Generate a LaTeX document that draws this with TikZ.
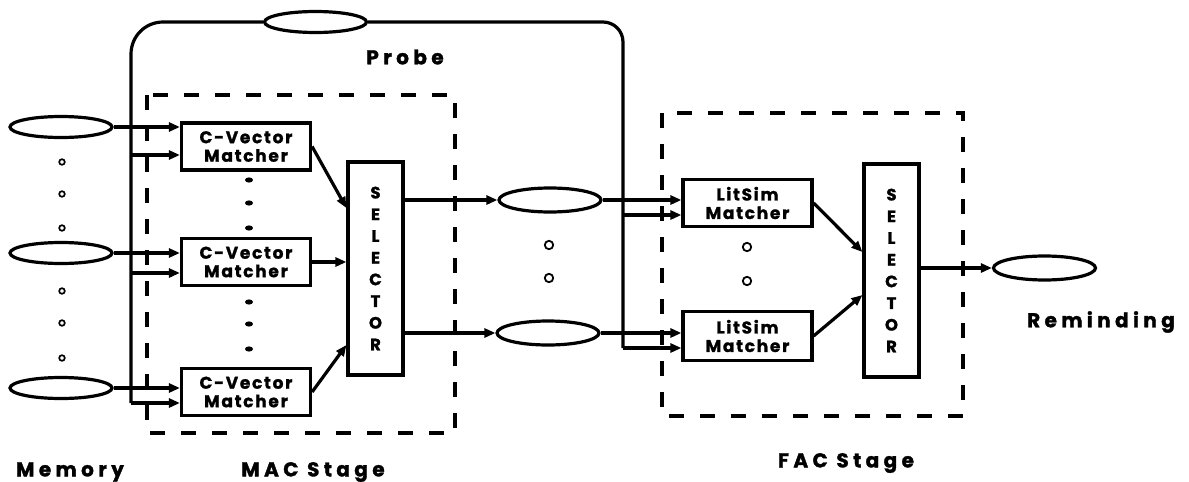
\documentclass[tikz,border=0pt]{standalone}
\usepackage{fontspec}
\setmainfont{Poppins}[BoldFeatures={FakeBold=1.2}]
\newfontfamily\boxface{Poppins}[LetterSpace=10, BoldFeatures={FakeBold=1.2}]
\newfontfamily\wideface{Poppins}[LetterSpace=22, BoldFeatures={FakeBold=1.6}]
\usetikzlibrary{positioning, arrows.meta, shapes.geometric, calc}
\tikzset{
  % --- boxes and stores ---
  matcher/.style={draw, rectangle, line width=3.2pt, minimum width=129pt,
    minimum height=47pt, inner sep=0pt, align=center,
    font=\boxface\bfseries\fontsize{17}{18.5}\selectfont},
  selectorbox/.style={draw, rectangle, line width=3.2pt, minimum width=55pt,
    minimum height=213pt, inner sep=0pt, align=center,
    font=\bfseries\fontsize{16.5}{21.7}\selectfont},
  store/.style={draw, ellipse, line width=3.2pt, minimum width=102pt,
    minimum height=21pt, inner sep=0pt},
  % --- lines ---
  feed/.style={-{Triangle[length=11pt, width=9pt]}, line width=3.2pt},
  wire/.style={line width=3.2pt},
  stagebox/.style={line width=3.8pt, dash pattern=on 15pt off 16pt},
  caption/.style={font=\wideface\bfseries\fontsize{20}{22}\selectfont},
}

\begin{document}
\begin{tikzpicture}[x=1pt, y=-1pt]
    \useasboundingbox (0,0) rectangle (1189,482);
    % stage frames
    \draw[stagebox] (147,95) rectangle (455,433);
    \draw[stagebox] (662,113) rectangle (963,416);
    % memory
    \node[store] (m1) at (61,127) {};
    \node[store] (m2) at (61,253) {};
    \node[store] (m3) at (61,388) {};
    % MAC stage
    \node[matcher] (cv1) at (246,146.5) {C-Vector\\Matcher};
    \node[matcher] (cv2) at (246,262)   {C-Vector\\Matcher};
    \node[matcher] (cv3) at (246,392)   {C-Vector\\Matcher};
    \node[selectorbox] (sel1) at (375.5,268.5) {S\\E\\L\\E\\C\\T\\O\\R};
    % candidates
    \node[store, minimum height=24pt] (r1) at (550,200) {};
    \node[store, minimum height=24pt] (r2) at (548,333) {};
    % FAC stage
    \node[matcher] (ls1) at (747.5,203) {LitSim\\Matcher};
    \node[matcher, minimum height=49pt] (ls2) at (747.5,336) {LitSim\\Matcher};
    \node[selectorbox] (sel2) at (891.5,270.5) {S\\E\\L\\E\\C\\T\\O\\R};
    \node[store, minimum height=24pt] (rem) at (1044.5,268) {};
    % probe
    \node[store] (probe) at (315.5,22) {};
    \coordinate (railL) at (131,403);
    \coordinate (railR) at (623,348);
    \draw[wire, rounded corners=32pt] (probe.west) -| (railL);
    \draw[wire, rounded corners=20pt] (probe.east) -| (railR);
    % memory -> matchers
    \draw[feed] (m1.east) -- (m1.east -| cv1.west);
    \draw[feed] (m2.east) -- (m2.east -| cv2.west);
    \draw[feed] (m3.east) -- (m3.east -| cv3.west);
    \foreach \b/\y in {cv1/155, cv2/273, cv3/403}
      \draw[feed] (railL |- 0,\y) -- (\b.west |- 0,\y);
    % matchers -> selector -> candidates
    \draw[feed] (cv1.east) -- (sel1.west |- 0,208);
    \draw[feed] (cv2.east) -- (cv2.east -| sel1.west);
    \draw[feed] (cv3.east) -- (sel1.west |- 0,345);
    \draw[feed] (sel1.east |- r1.west) -- (r1.west);
    \draw[feed] (sel1.east |- r2.west) -- (r2.west);
    % candidates -> LitSim
    \draw[feed] (r1.east) -- (r1.east -| ls1.west);
    \draw[feed] (r2.east) -- (r2.east -| ls2.west);
    \draw[feed] (railR |- 0,215) -- (ls1.west |- 0,215);
    \draw[feed] (railR) -- (railR -| ls2.west);
    \draw[feed] (ls1.east) -- (sel2.west |- 0,252);
    \draw[feed] (ls2.east) -- (sel2.west |- 0,295);
    \draw[feed] (sel2.east |- rem.west) -- (rem.west);
    % ellipsis marks
    \foreach \y in {162,194,228,291,323,358}
      \draw[line width=1.7pt] (62,\y) circle (2.8pt);
    \foreach \y in {180,203,228,302,324,349}
      \fill (249,\y) ellipse [x radius=4pt, y radius=2.6pt];
    \foreach \x/\y in {549/245, 549/278, 747/247, 747/281}
      \draw[line width=1.8pt] (\x,\y) circle (4.2pt);
    % labels
    \node[caption] (probetxt) at (405,57) {Probe};
    \node[caption] (memtxt) at (70,472) {Memory};
    \node[caption] (mactxt) at (313,472) {MAC Stage};
    \node[caption] (factxt) at (846,463) {FAC Stage};
    \node[caption] (remtxt) at (1101,322) {Reminding};
\end{tikzpicture}
\end{document}
